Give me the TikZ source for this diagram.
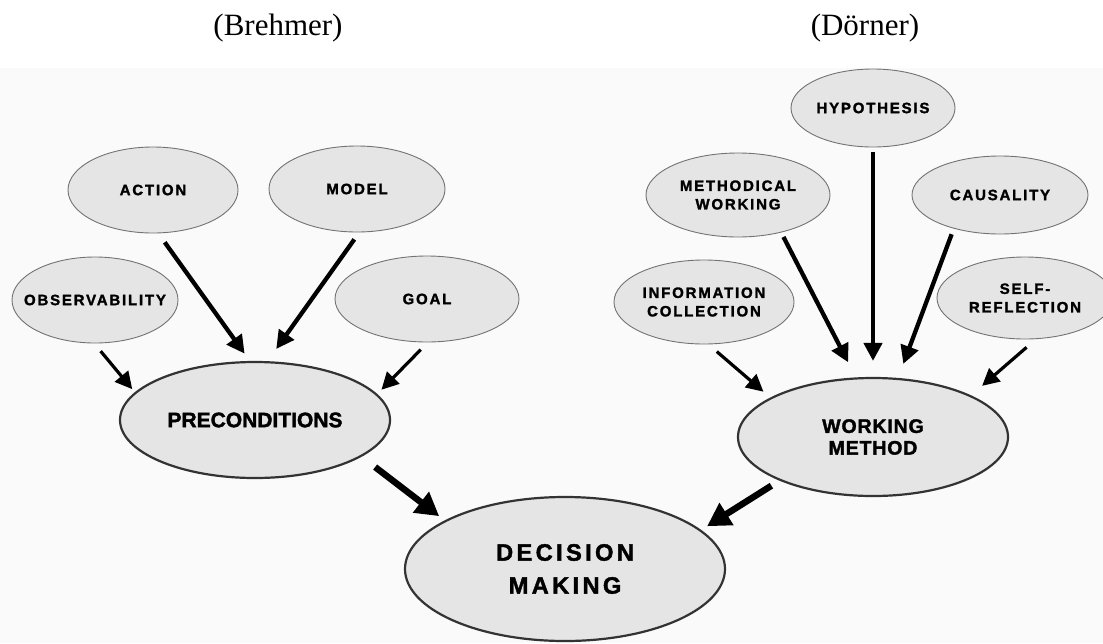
\documentclass[tikz,border=0pt]{standalone}
\usepackage{fontspec}
\setmainfont{Liberation Serif}
\newfontfamily\tagfont[LetterSpace=12, FakeBold=1.6]{Liberation Sans Bold}
\newfontfamily\hubfont[FakeBold=1.6]{Liberation Sans Bold}
\newfontfamily\methodfont[LetterSpace=4, FakeBold=1.6]{Liberation Sans Bold}
\newfontfamily\decisionfont[LetterSpace=14, FakeBold=1.6]{Liberation Sans Bold}
\usetikzlibrary{shapes.geometric,arrows.meta}

\begin{document}
\begin{tikzpicture}[x=1pt, y=-1pt,
  leaf/.style={ellipse, draw=black!55, line width=0.9pt, fill=black!10, inner sep=0pt, minimum height=86pt},
  hub/.style={ellipse, draw=black!80, line width=2.2pt, fill=black!10, inner sep=0pt, align=center},
  tag/.style={font={\tagfont\fontsize{15}{18.5}\selectfont}, align=center, inner sep=0pt},
  title/.style={font=\fontsize{31}{36}\selectfont},
  arr/.style={-{Triangle[length=17pt, width=17pt]}, line width=3.2pt},
  arrm/.style={-{Triangle[length=18pt, width=18pt]}, line width=4.3pt},
  arrb/.style={-{Triangle[length=23pt, width=25pt]}, line width=6.5pt}]
\fill[white] (0,0) rectangle (1103,643);
\fill[black!2] (0,68) rectangle (1103,643);
\useasboundingbox (0,0) rectangle (1103,643);
\node[title] (brehmer) at (278,28.5) {(Brehmer)};
\node[title] (doerner) at (865,28.5) {(Dörner)};
\node[leaf, minimum width=170pt, label={[tag]center:ACTION}] (action) at (153,190) {};
\node[leaf, minimum width=176pt, label={[tag]center:MODEL}] (model) at (357,189) {};
\node[leaf, minimum width=166pt, label={[tag]center:OBSERVABILITY}] (observ) at (95,300) {};
\node[leaf, minimum width=184pt, label={[tag]center:GOAL}] (goal) at (427,299) {};
\node[hub, minimum width=270pt, minimum height=116pt, font={\hubfont\fontsize{21}{25}\selectfont}] (precond) at (255,420) {PRECONDITIONS};
\node[leaf, minimum width=164pt, minimum height=78pt, label={[tag]center:HYPOTHESIS}] (hypo) at (873,108) {};
\node[leaf, minimum width=184pt, minimum height=84pt, label={[tag]center:{METHODICAL\\WORKING}}] (method) at (738,195) {};
\node[leaf, minimum width=176pt, minimum height=78pt, label={[tag]center:CAUSALITY}] (causal) at (1000,195) {};
\node[leaf, minimum width=180pt, minimum height=84pt, label={[tag]center:{INFORMATION\\COLLECTION}}] (info) at (704,302) {};
\node[leaf, minimum width=176pt, minimum height=82pt, label={[tag]center:{SELF-\\REFLECTION}}] (selfref) at (1025,298) {};
\node[hub, minimum width=270pt, minimum height=118pt, font={\methodfont\fontsize{19.6}{21.7}\selectfont}] (wmethod) at (873,437) {WORKING\\METHOD};
\node[hub, minimum width=320pt, minimum height=144pt, font={\decisionfont\fontsize{23.7}{33}\selectfont}] (decision) at (565,569) {DECISION\\MAKING};
\draw[arr, shorten <=10pt, shorten >=4pt] (observ.-91) -- (precond.167);
\draw[arrm, shorten <=11pt, shorten >=9pt] (action.-83) -- (precond.95);
\draw[arrm, shorten <=8.5pt, shorten >=15pt] (model.-87) -- (precond.78);
\draw[arr, shorten <=10pt, shorten >=6pt] (goal.-89) -- (precond.12);
\draw[arrb, shorten <=17pt, shorten >=7pt] (precond.-19) -- (decision.158);
\draw[arr, shorten <=11pt, shorten >=9pt] (info.-84) -- (wmethod.159);
\draw[arrm, shorten <=5pt, shorten >=17pt] (method.-41) -- (wmethod.106);
\draw[arrm, shorten <=5pt, shorten >=16pt] (hypo.south) -- (wmethod.north);
\draw[arrm, shorten <=6pt, shorten >=15pt] (causal.-144) -- (wmethod.67);
\draw[arr, shorten <=12.5pt, shorten >=14.5pt] (selfref.-75) -- (wmethod.23);
\draw[arrb, shorten <=9.5pt, shorten >=7pt] (wmethod.-155) -- (decision.16);
\end{tikzpicture}
\end{document}
